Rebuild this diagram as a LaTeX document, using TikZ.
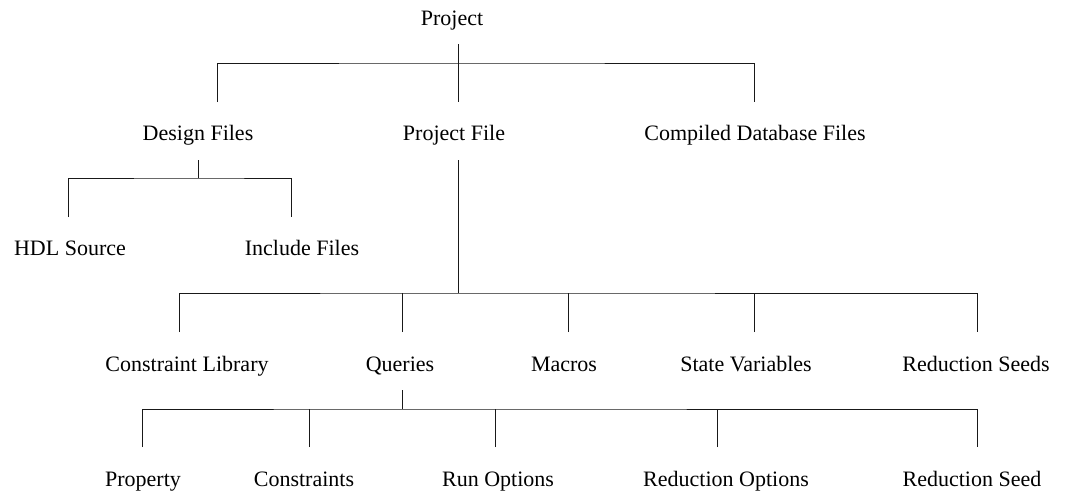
\documentclass[tikz,border=0pt]{standalone}
\usepackage{fontspec}
\setmainfont{Liberation Serif}
\begin{document}
\begin{tikzpicture}[x=1pt,y=-1pt,
  lbl/.style={anchor=base,inner sep=0pt,font=\fontsize{22}{26}\selectfont},
  conn/.style={draw=black!90,line width=1pt}]
\useasboundingbox (0,0) rectangle (1075,493);
% level 1
\node[lbl] (proj) at (452,25) {Project};
% level 2
\node[lbl] (df) at (198,140) {Design Files};
\node[lbl] (pf) at (454,140) {Project File};
\node[lbl] (cdb) at (755,140) {Compiled Database Files};
% level 3
\node[lbl] (hdl) at (70,255) {HDL Source};
\node[lbl] (inc) at (302,255) {Include Files};
% level 4
\node[lbl] (cl) at (187,371) {Constraint Library};
\node[lbl] (q) at (400,371) {Queries};
\node[lbl] (mac) at (564,371) {Macros};
\node[lbl] (sv) at (746,371) {State Variables};
\node[lbl] (rss) at (976,371) {Reduction Seeds};
% level 5
\node[lbl] (prop) at (143,486) {Property};
\node[lbl] (cons) at (304,486) {Constraints};
\node[lbl] (ro) at (498,486) {Run Options};
\node[lbl] (rop) at (726,486) {Reduction Options};
\node[lbl] (rs) at (972,486) {Reduction Seed};
% connector end points
\coordinate (proj-o) at (458,44);
\coordinate (df-i) at (217,102);
\coordinate (pf-i) at (458,102);
\coordinate (cdb-i) at (754,102);
\coordinate (df-o) at (198,160);
\coordinate (hdl-i) at (68,217);
\coordinate (inc-i) at (291,217);
\coordinate (pf-o) at (458,160);
\coordinate (cl-i) at (179,332);
\coordinate (q-i) at (402,332);
\coordinate (mac-i) at (568,332);
\coordinate (sv-i) at (754,332);
\coordinate (rss-i) at (977,332);
\coordinate (q-o) at (402,390);
\coordinate (prop-i) at (142,447);
\coordinate (cons-i) at (309,447);
\coordinate (ro-i) at (495,447);
\coordinate (rop-i) at (717,447);
\coordinate (rs-i) at (977,447);
% Project
\draw[conn] (proj-o) -- (pf-i);
\draw[conn] (df-i) |- (458,63) -| (cdb-i);
% Design Files
\draw[conn] (df-o) -- (198,178);
\draw[conn] (hdl-i) |- (198,178) -| (inc-i);
% Project File
\draw[conn] (pf-o) -- (458,293);
\draw[conn] (cl-i) |- (458,293) -| (rss-i);
\draw[conn] (q-i) -- (402,293);
\draw[conn] (mac-i) -- (568,293);
\draw[conn] (sv-i) -- (754,293);
% Queries
\draw[conn] (q-o) -- (402,409);
\draw[conn] (prop-i) |- (402,409) -| (rs-i);
\draw[conn] (cons-i) -- (309,409);
\draw[conn] (ro-i) -- (495,409);
\draw[conn] (rop-i) -- (717,409);
\end{tikzpicture}
\end{document}
